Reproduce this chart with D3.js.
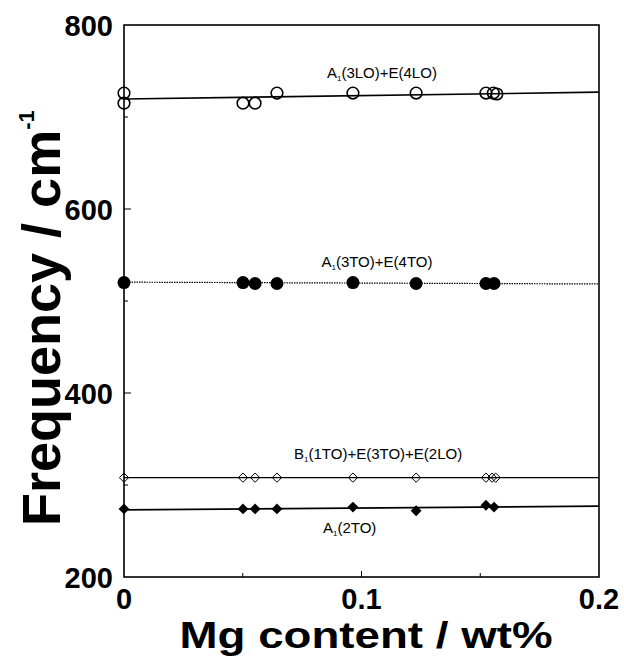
<!DOCTYPE html>
<html>
<head>
  <title>Frequency vs Mg content</title>
  <script src="https://unpkg.com/d3@7.8.2/dist/d3.min.js"></script>
  <style>
    body { margin: 0; background: #fff; }
    text { font-family: "Liberation Sans", Arial, sans-serif; }
  </style>
</head>
<body>
  <script>
    // data
    const loX = [0, 0, 0.0501, 0.0552, 0.0644, 0.0964, 0.123, 0.1524, 0.1555, 0.157];
    const loY = [726, 715, 715, 715, 726, 726, 726, 726, 726, 725];

    const toX = [0, 0.0501, 0.0552, 0.0644, 0.0964, 0.123, 0.1524, 0.1558];
    const toY = [520, 520, 519, 519, 520, 519, 519, 519];

    const b1X = [0, 0.0501, 0.0552, 0.0644, 0.0964, 0.123, 0.1524, 0.155, 0.1565];
    const b1Y = [308, 308, 308, 308, 308, 308, 308, 308, 308];

    const a1X = [0, 0.0501, 0.0552, 0.0644, 0.0964, 0.123, 0.1524, 0.1558];
    const a1Y = [274, 274, 274, 274, 276, 272, 278, 276];

    // fitted lines, values at x = 0 and x = 0.2
    const fitX = [0, 0.2];
    const loFit = [719.5, 727];
    const toFit = [520.5, 518.5];
    const b1Fit = [308, 308];
    const a1Fit = [273, 277];

    const xTicks = [0, 0.1, 0.2];
    const xMinor = [0.05, 0.15];
    const yTicks = [200, 400, 600, 800];
    const yMinor = [300, 500, 700];

    const labels = [
      { main: "A", sub: "1", rest: "(3LO)+E(4LO)", x: 0.1086, y: 742 },
      { main: "A", sub: "1", rest: "(3TO)+E(4TO)", x: 0.1065, y: 537 },
      { main: "B", sub: "1", rest: "(1TO)+E(3TO)+E(2LO)", x: 0.107, y: 328 },
      { main: "A", sub: "1", rest: "(2TO)", x: 0.095, y: 248 }
    ];

    const width = 624;
    const height = 667;
    const margin = { left: 124, right: 25, top: 25, bottom: 90 };

    const svg = d3.select("body").append("svg")
      .attr("width", width)
      .attr("height", height);

    const x = d3.scaleLinear().domain([0, 0.2]).range([margin.left, width - margin.right]);
    const y = d3.scaleLinear().domain([200, 800]).range([height - margin.bottom, margin.top]);

    // frame
    svg.append("rect")
      .attr("x", x(0)).attr("y", y(800))
      .attr("width", x(0.2) - x(0)).attr("height", y(200) - y(800))
      .attr("fill", "none").attr("stroke", "#000").attr("stroke-width", 1.6);

    // inward ticks
    svg.selectAll(".xt").data(xTicks.slice(1, -1).concat(xMinor)).enter().append("line")
      .attr("x1", d => x(d)).attr("x2", d => x(d))
      .attr("y1", y(200)).attr("y2", d => y(200) - (xMinor.includes(d) ? 4 : 6))
      .attr("stroke", "#000").attr("stroke-width", 1);
    svg.selectAll(".yt").data(yTicks.slice(1, -1).concat(yMinor)).enter().append("line")
      .attr("y1", d => y(d)).attr("y2", d => y(d))
      .attr("x1", x(0)).attr("x2", d => x(0) + (yMinor.includes(d) ? 4 : 7))
      .attr("stroke", "#000").attr("stroke-width", 1);

    // tick labels
    svg.selectAll(".xl").data(xTicks).enter().append("text")
      .attr("x", d => x(d)).attr("y", 609)
      .attr("text-anchor", "middle")
      .style("font-size", "29px").style("font-weight", "bold")
      .text(d => d === 0 ? "0" : d3.format(".1f")(d));
    svg.selectAll(".yl").data(yTicks).enter().append("text")
      .attr("x", x(0) - 11).attr("y", d => y(d) + 10.5)
      .attr("text-anchor", "end")
      .style("font-size", "29px").style("font-weight", "bold")
      .text(d => d);

    // axis titles
    svg.append("text")
      .attr("x", 366).attr("y", 648)
      .attr("text-anchor", "middle")
      .attr("textLength", 373).attr("lengthAdjust", "spacingAndGlyphs")
      .style("font-size", "36px").style("font-weight", "bold")
      .text("Mg content / wt%");

    const yTitle = svg.append("text")
      .attr("transform", "translate(60,526) rotate(-90)")
      .style("font-size", "54px").style("font-weight", "bold");
    yTitle.append("tspan").text("Frequency / cm");
    yTitle.append("tspan").attr("dy", -26).style("font-size", "22px").text("-1");

    // fitted lines
    const line = d3.line().x(d => x(d[0])).y(d => y(d[1]));
    const fits = [
      { v: loFit, w: 1.6, dash: null },
      { v: toFit, w: 1.2, dash: "1.5,1" },
      { v: b1Fit, w: 1.3, dash: null },
      { v: a1Fit, w: 1.8, dash: null }
    ];
    svg.selectAll(".fit").data(fits).enter().append("path")
      .attr("d", d => line(fitX.map((fx, i) => [fx, d.v[i]])))
      .attr("fill", "none").attr("stroke", "#000")
      .attr("stroke-width", d => d.w)
      .attr("stroke-dasharray", d => d.dash);

    // markers
    svg.selectAll(".lo").data(loX).enter().append("circle")
      .attr("cx", d => x(d)).attr("cy", (d, i) => y(loY[i])).attr("r", 5.8)
      .attr("fill", "none").attr("stroke", "#000").attr("stroke-width", 1.6);

    svg.selectAll(".to").data(toX).enter().append("circle")
      .attr("cx", d => x(d)).attr("cy", (d, i) => y(toY[i])).attr("r", 6.5)
      .attr("fill", "#000");

    svg.selectAll(".b1").data(b1X).enter().append("path")
      .attr("d", d3.symbol().type(d3.symbolDiamond2).size(55)())
      .attr("transform", (d, i) => `translate(${x(d)},${y(b1Y[i])})`)
      .attr("fill", "none").attr("stroke", "#000").attr("stroke-width", 1);

    svg.selectAll(".a1").data(a1X).enter().append("path")
      .attr("d", d3.symbol().type(d3.symbolDiamond2).size(75)())
      .attr("transform", (d, i) => `translate(${x(d)},${y(a1Y[i])})`)
      .attr("fill", "#000");

    // peak labels with subscript 1
    labels.forEach(l => {
      const t = svg.append("text")
        .attr("x", x(l.x)).attr("y", y(l.y))
        .attr("text-anchor", "middle")
        .style("font-size", "15px");
      t.append("tspan").text(l.main);
      t.append("tspan").attr("dy", 3).style("font-size", "8px").text(l.sub);
      t.append("tspan").attr("dy", -3).text(l.rest);
    });
  </script>
</body>
</html>
